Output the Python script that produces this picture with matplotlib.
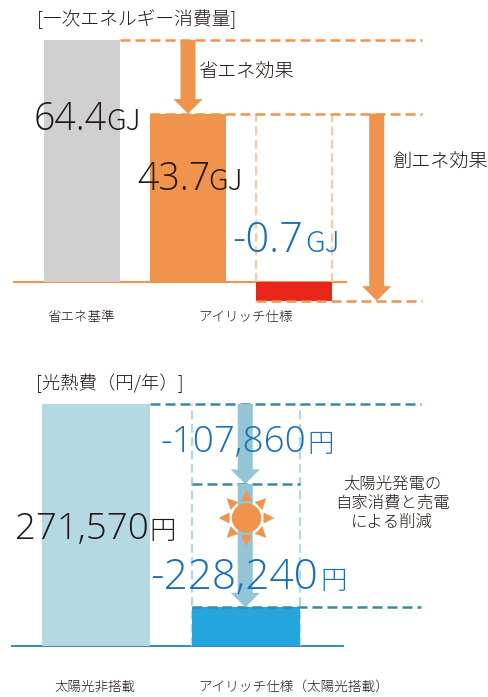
import numpy as np
import matplotlib
matplotlib.use('Agg')
import matplotlib.pyplot as plt
from matplotlib.patches import Circle, Polygon

W, H = 489, 697
JP = ['Noto Sans CJK JP', 'DejaVu Sans']
NUM = ['Open Sans', 'Noto Sans CJK JP']

# primary energy panel (bars as drawn in the picture, not to scale with labels)
energy_cats = ['省エネ基準', 'アイリッチ仕様']
energy_heights = [64.4, 44.8, -5.0]
energy_labels = ['64.4', '43.7', '-0.7']

# utility cost panel
cost_cats = ['太陽光非搭載', 'アイリッチ仕様（太陽光搭載）']
cost_heights = [271570, 43330]
cost_mid_level = 181800
cost_labels = ['271,570', '-107,860', '-228,240']

ORANGE = '#f0944d'
ORANGE_L = '#f8cba8'
TEAL = '#3a8a9e'
ARROW_BLUE = '#93c5d5'
PALE = '#b5d9e3'
BLUE = '#25a5de'
TXT = '#231815'
TXT_BLUE = '#1a6eb5'

fig = plt.figure(figsize=(W / 100, H / 100), dpi=100)


def panel(top, bottom):
    ax = fig.add_axes([0, 1 - bottom / H, 1, (bottom - top) / H])
    ax.axis('off')
    return ax


def down_arrow(ax, x, y0, y1, color):
    ax.annotate('', xy=(x, y1), xytext=(x, y0),
                arrowprops=dict(width=10.8, headwidth=21, headlength=10.5, shrink=0,
                                facecolor=color, edgecolor='none'), zorder=4)


# top panel, 1 unit on x = 106 px, 1 unit on y = 3.758 px
ax1 = panel(20, 320)
ax1.set_xlim(-82 / 106, (W - 82) / 106)
ax1.set_ylim((282 - 320) / 3.758, (282 - 20) / 3.758)
ax1.bar([0, 1, 2], energy_heights, width=76 / 106, color=['#d0d0d0', ORANGE, '#e8251a'], zorder=2)
ax1.plot([-0.64, 2.49], [0, 0], color=ORANGE, lw=1.5, zorder=1)
for lvl, x0 in zip(energy_heights, [0.36, 0.64, 1.64]):
    ax1.plot([x0, 3.21], [lvl, lvl], color=ORANGE, lw=1.8, ls=(0, (4, 2)), zorder=3)
for x in [1.64, 2.36]:
    ax1.plot([x, x], [0, energy_heights[1]], color=ORANGE_L, lw=1.6, ls=(0, (4, 2)), zorder=1)
down_arrow(ax1, 1, energy_heights[0], energy_heights[1], ORANGE)
down_arrow(ax1, 2.78, energy_heights[1], energy_heights[2], ORANGE)

# bottom panel, 1 unit on x = 150 px
ax2 = panel(390, 670)
scale = 242 / cost_heights[0]
ax2.set_xlim(-96 / 150, (W - 96) / 150)
ax2.set_ylim((646 - 670) / scale, (646 - 390) / scale)
ax2.bar([0, 1], cost_heights, width=108 / 150, color=[PALE, BLUE], zorder=2)
ax2.plot([-0.56, 1.65], [0, 0], color='#3d8ea8', lw=1.5, zorder=1)
for lvl, x0, x1 in [(cost_heights[0], 0.36, 2.17), (cost_mid_level, 0.64, 1.36), (cost_heights[1], 0.64, 2.17)]:
    ax2.plot([x0, x1], [lvl, lvl], color=TEAL, lw=1.8, ls=(0, (4, 2)), zorder=3)
for x in [0.64, 1.36]:
    ax2.plot([x, x], [0, cost_heights[0]], color=PALE, lw=1.6, ls=(0, (4, 2)), zorder=1)
down_arrow(ax2, 0.995, cost_heights[0], cost_mid_level, ARROW_BLUE)
down_arrow(ax2, 0.995, cost_mid_level, cost_heights[1], ARROW_BLUE)

# overlay in pixels for the texts and the sun
ov = fig.add_axes([0, 0, 1, 1], facecolor='none')
ov.set_xlim(0, W)
ov.set_ylim(H, 0)
ov.axis('off')


def jp(x, y, s, size, ha='left', color=TXT):
    ov.text(x, y, s, fontsize=size, ha=ha, va='center', color=color, family=JP, fontweight='light')


def num(x, y, s, size, unit, usize, ux, color=TXT):
    ov.text(x, y, s, fontsize=size, ha='left', va='baseline', color=color, family=NUM, fontweight='light')
    ov.text(ux, y, unit, fontsize=usize, ha='left', va='baseline', color=color, family=JP, fontweight='light')


jp(37, 19, '[一次エネルギー消費量]', 13.5)
jp(198, 72, '省エネ効果', 13.8)
jp(392, 162, '創エネ効果', 13.8)
jp(81.5, 318, energy_cats[0], 9.7, ha='center')
jp(245.5, 318, energy_cats[1], 9.7, ha='center')
num(34, 130, energy_labels[0], 27, 'GJ', 21, 106)
num(137, 190, energy_labels[1], 27, 'GJ', 21, 208)
num(232, 252, energy_labels[2], 30, 'GJ', 21, 305, color=TXT_BLUE)

jp(36, 383, '[光熱費（円/年）]', 13.2)
jp(392, 484, '太陽光発電の', 11.8, ha='center')
jp(392, 503, '自家消費と売電', 11.8, ha='center')
jp(392, 522, 'による削減', 11.8, ha='center')
jp(95, 687, cost_cats[0], 9.7, ha='center')
jp(198, 687, cost_cats[1], 9.8)
num(15, 539, cost_labels[0], 26.5, '円', 19, 149)
num(160, 452, cost_labels[1], 26.5, '円', 19, 307, color=TXT_BLUE)
num(150, 589, cost_labels[2], 30.5, '円', 19, 320, color=TXT_BLUE)

# sun icon
cx, cy = 246.5, 518
ov.add_patch(Circle((cx, cy), 14, color=ORANGE, zorder=5))
for a in np.deg2rad(np.arange(0, 360, 45)):
    d = np.array([np.cos(a), np.sin(a)])
    n = np.array([-d[1], d[0]])
    c = np.array([cx, cy])
    ov.add_patch(Polygon([c + d * 17 + n * 5.5, c + d * 17 - n * 5.5, c + d * 28], color=ORANGE, lw=0, zorder=5))

fig.savefig('out.png', dpi=100)
